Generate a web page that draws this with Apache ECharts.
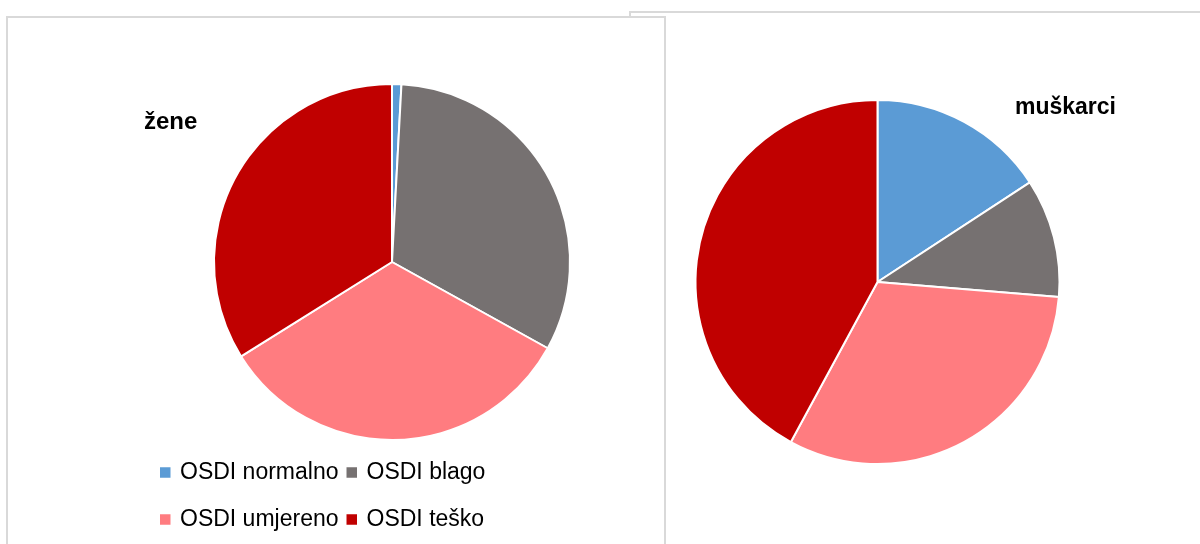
<!DOCTYPE html>
<html>
<head>
<meta charset="utf-8">
<script src="https://cdn.jsdelivr.net/npm/echarts@6/dist/echarts.min.js"></script>
<style>
  html, body { margin: 0; padding: 0; background: #fff; }
  #chart { width: 1200px; height: 544px; }
</style>
</head>
<body>
<div id="chart"></div>
<script>
// OSDI kategorije
const categories = ['OSDI normalno', 'OSDI blago', 'OSDI umjereno', 'OSDI teško']
const colors = ['#5B9BD5', '#767171', '#FF7C80', '#C00000']
// broj ispitanika po kategoriji
const zeneValues = [1, 38, 39, 40]
const muskarciValues = [3, 2, 6, 8]

const chart = echarts.init(document.getElementById('chart'))

const toData = vals => vals.map((v, i) => ({ name: categories[i], value: v }))
const font = '"Liberation Sans", Arial, sans-serif'

const legendBase = {
  orient: 'horizontal',
  left: 158,
  padding: 0,
  itemWidth: 12.5,
  itemHeight: 12.5,
  itemGap: 6,
  icon: 'rect',
  textStyle: { fontFamily: font, fontSize: 23, color: '#000', padding: [0, 0, 0, 3.5] }
}

const option = {
  color: colors,
  animation: false,
  title: [
    {
      text: 'žene',
      left: 144,
      top: 110,
      padding: 0,
      textStyle: { fontFamily: font, fontSize: 24, fontWeight: 'bold', color: '#000' }
    },
    {
      text: 'muškarci',
      left: 1015,
      top: 96,
      padding: 0,
      textStyle: { fontFamily: font, fontSize: 23, fontWeight: 'bold', color: '#000' }
    }
  ],
  legend: [
    { ...legendBase, top: 461, data: categories.slice(0, 2) },
    { ...legendBase, top: 508, data: categories.slice(2, 4) }
  ],
  graphic: [
    {
      type: 'rect',
      z: 0,
      shape: { x: 630, y: 12, width: 700, height: 600 },
      style: { fill: '#fff', stroke: '#d9d9d9', lineWidth: 2 }
    },
    {
      type: 'rect',
      z: 1,
      shape: { x: 7, y: 17, width: 658, height: 600 },
      style: { fill: '#fff', stroke: '#d9d9d9', lineWidth: 2 }
    }
  ],
  series: [
    {
      name: 'žene',
      type: 'pie',
      z: 3,
      center: [392, 262],
      radius: 178,
      startAngle: 90,
      label: { show: false },
      labelLine: { show: false },
      silent: true,
      itemStyle: { borderColor: '#fff', borderWidth: 2 },
      data: toData(zeneValues)
    },
    {
      name: 'muškarci',
      type: 'pie',
      z: 3,
      center: [877.5, 282],
      radius: 182,
      startAngle: 90,
      label: { show: false },
      labelLine: { show: false },
      silent: true,
      itemStyle: { borderColor: '#fff', borderWidth: 2 },
      data: toData(muskarciValues)
    }
  ]
}

chart.setOption(option)
</script>
</body>
</html>
